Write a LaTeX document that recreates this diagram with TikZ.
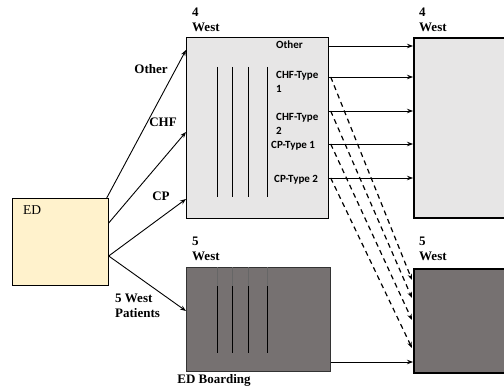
\documentclass[tikz,border=0pt]{standalone}
\usepackage{fontspec}
\setmainfont{Liberation Serif}
\newfontfamily\calfont{Carlito}
\usetikzlibrary{arrows.meta,calc}
\definecolor{edfill}{HTML}{FFF2CC}
\definecolor{lgray}{HTML}{E7E6E6}
\definecolor{dgray}{HTML}{767171}
\tikzset{
  lbl/.style={font=\bfseries\fontsize{13}{15}\selectfont, align=left, inner sep=0pt},
  inl/.style={font=\calfont\bfseries\fontsize{11}{14}\selectfont, align=left, inner sep=0pt, anchor=west},
  boxa/.style={draw=black, line width=0.7pt, inner sep=0pt, anchor=north west},
  boxb/.style={draw=black, line width=1.8pt, inner sep=0pt, anchor=north west},
  arr/.style={-{Stealth[length=6pt,width=4.5pt]}, line width=0.9pt},
  dsh/.style={-{Stealth[length=6pt,width=4.5pt]}, line width=1.2pt, dash pattern=on 5pt off 4pt},
  vline/.style={line width=0.9pt}
}
\begin{document}
\begin{tikzpicture}[x=1pt,y=-1pt]
\useasboundingbox (0,0) rectangle (504,390);
% boxes
\node[boxa, fill=edfill, minimum width=96pt, minimum height=87pt] (ed) at (12,198) {};
\node[font=\fontsize{13.5}{15}\selectfont, anchor=west, inner sep=0pt] (edl) at (23,210) {ED};
\node[boxa, fill=lgray, minimum width=142pt, minimum height=181pt] (w4a) at (186,37) {};
\node[boxb, fill=lgray, minimum width=100pt, minimum height=180pt] (w4b) at (413,37) {};
\node[boxa, draw=black!80, fill=dgray, minimum width=144pt, minimum height=104pt] (w5a) at (186,267) {};
\node[boxb, fill=dgray, minimum width=100pt, minimum height=104pt] (w5b) at (413,268) {};
% box titles
\node[lbl, anchor=north west] (t4a) at (192,8) {4\\West};
\node[lbl, anchor=north west] (t4b) at (419,8) {4\\West};
\node[lbl, anchor=north west] (t5a) at (192,237) {5\\West};
\node[lbl, anchor=north west] (t5b) at (419,237) {5\\West};
\node[lbl] (edb) at (214,380) {ED Boarding};
% vertical lines
\foreach \xx in {217,232,248,267} {
  \draw[vline] (\xx,67) -- (\xx,197);
  \draw[vline] (\xx,286) -- (\xx,353);
  \draw[line width=0.3pt, black!60] (\xx,267) -- (\xx,286);
}
% inner labels
\node[inl] (o1) at (276,45) {Other};
\node[inl] (c1) at (276,82) {CHF-Type\\1};
\node[inl] (c2) at (276,124) {CHF-Type\\2};
\node[inl] (p1) at (271,146) {CP-Type 1};
\node[inl] (p2) at (274,180) {CP-Type 2};
% arrows from ED
\draw[arr] ([xshift=-2pt]ed.north east) -- ([yshift=-13pt]w4a.north west);
\draw[arr] ([yshift=-25pt]ed.north east) -- ([yshift=-95pt]w4a.north west);
\draw[arr] ([yshift=-58pt]ed.north east) -- ([yshift=-162pt]w4a.north west);
\draw[arr] ([yshift=-58pt]ed.north east) -- ([yshift=-44pt]w5a.north west);
\node[lbl] (lo) at (151,69) {Other};
\node[lbl] (lc) at (163,122) {CHF};
\node[lbl] (lp) at (161,196) {CP};
\node[lbl, anchor=west] (lw) at (115,306) {5 West\\Patients};
% horizontal arrows
\foreach \s in {9,40,74,107,141} {
  \draw[arr] ([yshift=-\s pt]w4a.north east) -- ([yshift=-\s pt]w4b.north west);
}
\draw[arr] ([yshift=-95pt]w5a.north east) -- ([yshift=-94pt]w5b.north west);
% dashed arrows
\draw[dsh] ([xshift=2pt,yshift=-40pt]w4a.north east) -- ([xshift=-1pt,yshift=-12pt]w5b.north west);
\draw[dsh] ([xshift=2pt,yshift=-74pt]w4a.north east) -- ([xshift=-1pt,yshift=-30pt]w5b.north west);
\draw[dsh] ([xshift=2pt,yshift=-107pt]w4a.north east) -- ([xshift=-1pt,yshift=-52pt]w5b.north west);
\draw[dsh] ([xshift=2pt,yshift=-141pt]w4a.north east) -- ([xshift=-1pt,yshift=-80pt]w5b.north west);
\end{tikzpicture}
\end{document}
